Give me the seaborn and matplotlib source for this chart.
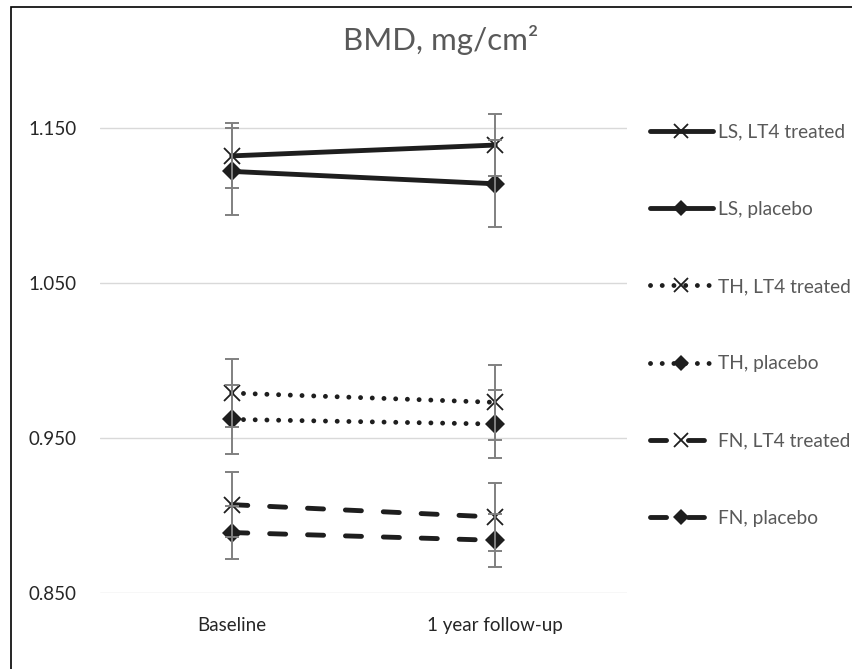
import numpy as np
import pandas as pd
import matplotlib.pyplot as plt
import seaborn as sns
from matplotlib.patches import Rectangle

timepoints = ['Baseline', '1 year follow-up']
series_names = ['LS, LT4 treated', 'LS, placebo', 'TH, LT4 treated',
                'TH, placebo', 'FN, LT4 treated', 'FN, placebo']
baseline = [1.132, 1.122, 0.979, 0.962, 0.907, 0.889]
followup = [1.139, 1.114, 0.973, 0.959, 0.899, 0.884]
err_baseline = [0.021, 0.028, 0.022, 0.022, 0.021, 0.017]
err_followup = [0.020, 0.028, 0.024, 0.022, 0.022, 0.017]

rows = []
for i, name in enumerate(series_names):
    rows.append({'series': name, 'time': timepoints[0], 'bmd': baseline[i], 'err': err_baseline[i]})
    rows.append({'series': name, 'time': timepoints[1], 'bmd': followup[i], 'err': err_followup[i]})
df = pd.DataFrame(rows)
df['pos'] = df['time'].map({t: k for k, t in enumerate(timepoints)})

sns.set_theme(style='white')
plt.rcParams['font.family'] = ['Lato', 'DejaVu Sans']

line_col = '#1e1e1e'
styles = {
    'LS': dict(linestyle='-'),
    'TH': dict(linestyle=(0, (0.01, 2.4))),
    'FN': dict(linestyle=(0, (3.3, 4.5))),
}

fig = plt.figure(figsize=(8.52, 6.69), dpi=100)
ax = fig.add_axes([100 / 852, 1 - 593 / 669, 527 / 852, (593 - 81.5) / 669])

for name in series_names:
    sub = df[df['series'] == name]
    site = name.split(',')[0]
    treated = 'LT4' in name
    mk = dict(marker='x', markersize=12, markeredgewidth=1.3, markeredgecolor=line_col) if treated \
        else dict(marker='D', markersize=10, markeredgewidth=0, markerfacecolor=line_col)
    sns.lineplot(data=sub, x='pos', y='bmd', ax=ax, color=line_col, linewidth=3.5,
                 dash_capstyle='round', solid_capstyle='round', label=name,
                 zorder=3, **styles[site], **mk)
    ax.errorbar(sub['pos'], sub['bmd'], yerr=sub['err'], fmt='none', ecolor='#808080',
                elinewidth=1.4, capsize=5, capthick=1.4, zorder=4)

ax.set_xlim(-0.5, 1.5)
ax.set_ylim(0.85, 1.18)
ax.set_yticks([0.85, 0.95, 1.05, 1.15])
ax.set_yticklabels([f'{v:.3f}' for v in [0.85, 0.95, 1.05, 1.15]])
ax.set_xticks(range(len(timepoints)))
ax.set_xticklabels(timepoints)
ax.set_xlabel('')
ax.set_ylabel('')
ax.grid(axis='y', color='#d9d9d9', linewidth=1)
ax.grid(axis='x', visible=False)
for s in ax.spines.values():
    s.set_visible(False)
ax.tick_params(axis='y', length=0, pad=17, labelsize=13.5, labelcolor='#262626')
ax.tick_params(axis='x', length=0, pad=17, labelsize=13.5, labelcolor='#262626')

handles, labels = ax.get_legend_handles_labels()
ax.get_legend().remove()
fig.legend(handles, labels, loc='upper left', bbox_to_anchor=(642 / 852, 1 - 116 / 669),
           frameon=False, fontsize=13.8, labelcolor='#595959', handlelength=3.3,
           handletextpad=0.25, labelspacing=3.14, borderaxespad=0, markerscale=0.8)

fig.text(441 / 852, 1 - 40 / 669, 'BMD, mg/cm²', ha='center', va='center',
         fontsize=22.5, color='#595959')

fig.add_artist(Rectangle((11 / 852, -0.1), 2, 1 - 7 / 669 + 0.1, transform=fig.transFigure,
                         fill=False, edgecolor='black', linewidth=1.2))

fig.savefig('out.png', dpi=100)
